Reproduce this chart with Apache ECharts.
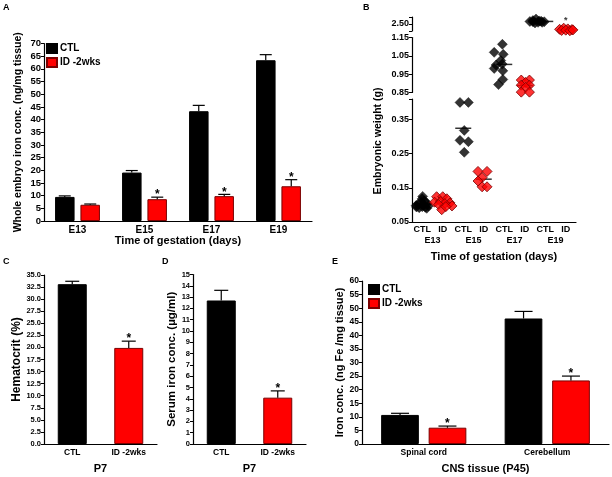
<!DOCTYPE html>
<html><head><meta charset="utf-8">
<script src="https://cdn.jsdelivr.net/npm/echarts@6/dist/echarts.min.js"></script>
<style>html,body{margin:0;padding:0;background:#fff}#c{width:612px;height:477px}</style>
</head><body><div id="c"></div>
<script>
// ---------------- DATA ----------------
// Panel A: whole embryo iron concentration (ng/mg tissue)
const aCategories = ['E13', 'E15', 'E17', 'E19'];
const aCtl    = [9.5, 19.1, 43.3, 63.4];
const aCtlErr = [0.4, 0.8, 2.3, 2.2];
const aId     = [6.4, 8.6, 9.8, 13.7];
const aIdErr  = [0.3, 0.8, 0.7, 2.6];
const aIdSig  = [false, true, true, true];

// Panel B: embryonic weight (g); each point = [horizontal jitter, weight]
const bLabels = ['CTL', 'ID', 'CTL', 'ID', 'CTL', 'ID', 'CTL', 'ID'];
const bGroups = ['E13', 'E15', 'E17', 'E19'];
const bE13Ctl = [[-0.3,0.098],[-0.15,0.092],[0,0.095],[0.15,0.093],[0.3,0.097],[-0.2,0.103],[0.05,0.101],[0.25,0.104],[-0.05,0.108],[0.1,0.112],[0,0.118],[0.02,0.125],[-0.28,0.094],[0.22,0.09]];
const bE13Id  = [[-0.3,0.124],[0.0,0.124],[0.2,0.118],[-0.4,0.108],[-0.1,0.11],[0.35,0.106],[0.1,0.104],[0.45,0.097],[-0.2,0.101],[-0.05,0.086],[0.15,0.095]];
const bE15Ctl = [[-0.16,0.400],[0.25,0.400],[0.05,0.318],[-0.16,0.289],[0.25,0.285],[0.05,0.254]];
const bE15Id  = [[-0.28,0.198],[0.16,0.198],[-0.08,0.180],[-0.28,0.170],[-0.08,0.153],[0.16,0.153]];
const bE17Ctl = [[-0.09,1.113],[-0.49,1.069],[-0.05,1.058],[-0.17,1.024],[-0.4,1.0],[-0.1,1.005],[-0.49,0.981],[-0.07,0.968],[-0.07,0.921],[-0.28,0.893]];
const bE17Id  = [[-0.17,0.918],[0.23,0.918],[0.04,0.905],[-0.17,0.89],[0.23,0.89],[0.04,0.878],[-0.17,0.852],[0.23,0.852]];
const bE19Ctl = [[-0.75,2.68],[-0.6,2.75],[-0.45,2.85],[-0.3,2.72],[-0.15,2.62],[-0.5,2.58],[-0.35,2.62],[-0.2,2.7],[-0.6,2.66],[-0.05,2.66]];
const bE19Id  = [[-0.3,2.12],[-0.1,2.2],[0.1,2.15],[0.3,2.1],[-0.2,2.04],[0.0,2.06],[0.2,2.02],[0.35,2.08]];
const bSig    = [false, false, false, false, false, false, false, true];
const bLowTicks = [0.05, 0.15, 0.25, 0.35];
const bMidTicks = [0.85, 0.95, 1.05, 1.15];
const bTopTicks = [2.5];

// Panel C: hematocrit (%) at P7
const cCategories = ['CTL', 'ID -2wks'];
const cValues = [33.1, 19.9];
const cErr    = [0.6, 1.4];
const cSig    = [false, true];

// Panel D: serum iron (µg/ml) at P7
const dCategories = ['CTL', 'ID -2wks'];
const dValues = [12.7, 4.1];
const dErr    = [0.9, 0.6];
const dSig    = [false, true];

// Panel E: CNS tissue iron (ng Fe/mg tissue) at P45
const eCategories = ['Spinal cord', 'Cerebellum'];
const eCtl    = [10.7, 46.2];
const eCtlErr = [0.6, 2.6];
const eId     = [6.0, 23.4];
const eIdErr  = [0.6, 1.6];
const eIdSig  = [true, true];

// ---------------- STYLE ----------------
const FF = 'Liberation Sans, Arial, sans-serif';
const RED = '#ff0000', RED_B = '#7a0000', BLK = '#000000';

function yAx(gi, min, max, interval, fs, fmt, extra) {
  return Object.assign({
    type: 'value', gridIndex: gi, min: min, max: max, interval: interval,
    axisLine: {show: true, lineStyle: {color: BLK, width: 1.2}},
    axisTick: {show: true, length: 3, lineStyle: {color: BLK, width: 1}},
    axisLabel: {fontSize: fs, fontWeight: 'bold', color: BLK, margin: 3, fontFamily: FF, formatter: fmt},
    splitLine: {show: false}
  }, extra || {});
}
function xCat(gi, data, fs, extra) {
  return Object.assign({
    type: 'category', gridIndex: gi, data: data, boundaryGap: true, position: 'bottom',
    axisLine: {show: true, onZero: false, lineStyle: {color: BLK, width: 1.2}},
    axisTick: {show: false},
    axisLabel: {fontSize: fs, fontWeight: 'bold', color: BLK, margin: 4, fontFamily: FF, interval: 0},
    nameTextStyle: {fontSize: 11, fontWeight: 'bold', color: BLK, fontFamily: FF},
    nameLocation: 'middle'
  }, extra || {});
}
function bars(name, xi, yi, values, color, border, width, gap, perItem) {
  return {
    type: 'bar', name: name, xAxisIndex: xi, yAxisIndex: yi, barWidth: width, barGap: gap,
    data: values.map(function (v, i) {
      return perItem ? {value: v, itemStyle: {color: perItem[i][0], borderColor: perItem[i][1]}} : v;
    }),
    itemStyle: {color: color, borderColor: border, borderWidth: 1},
    silent: true, z: 3
  };
}
function errs(xi, yi, values, errors, sig, offset, capHalf) {
  return {
    type: 'custom', xAxisIndex: xi, yAxisIndex: yi, silent: true, z: 5,
    data: values.map(function (v, i) { return [i, v, v + errors[i], sig[i] ? 1 : 0]; }),
    renderItem: function (params, api) {
      const base = api.coord([api.value(0), api.value(1)]);
      const top = api.coord([api.value(0), api.value(2)]);
      const x = base[0] + offset;
      const ch = [
        {type: 'line', shape: {x1: x, y1: base[1], x2: x, y2: top[1]}, style: {stroke: BLK, lineWidth: 1.2}},
        {type: 'line', shape: {x1: x - capHalf, y1: top[1], x2: x + capHalf, y2: top[1]}, style: {stroke: BLK, lineWidth: 1.2}}
      ];
      if (api.value(3)) {
        ch.push({type: 'text', style: {text: '*', x: x, y: top[1] + 4, align: 'center', verticalAlign: 'bottom',
          font: 'bold 12px ' + FF, fill: BLK}});
      }
      return {type: 'group', children: ch};
    }
  };
}

// ---------------- PANEL B SERIES ----------------
const bAll = [bE13Ctl, bE13Id, bE15Ctl, bE15Id, bE17Ctl, bE17Id, bE19Ctl, bE19Id];
function seg(v) { return v < 0.6 ? 0 : (v < 1.5 ? 1 : 2); }
const bSeries = [];
bAll.forEach(function (pts, idx) {
  const s = seg(pts[0][1]);
  const isId = idx % 2 === 1;
  const mean = pts.reduce(function (a, p) { return a + p[1]; }, 0) / pts.length;
  bSeries.push({
    type: 'scatter', name: 'mean' + idx, xAxisIndex: 3 + s, yAxisIndex: 1 + s, silent: true, clip: false, z: 2,
    symbol: 'rect', symbolSize: [16, 1.5], itemStyle: {color: BLK},
    data: [[idx + 0.5, mean]]
  });
  bSeries.push({
    type: 'scatter', name: 'pts' + idx, xAxisIndex: 3 + s, yAxisIndex: 1 + s, silent: true, clip: false, z: 3,
    symbol: 'diamond', symbolSize: 10,
    itemStyle: isId ? {color: RED, borderColor: RED_B, borderWidth: 1} : {color: BLK, borderColor: BLK, borderWidth: 0.5},
    data: pts.map(function (p) { return [idx + 0.5 + p[0], p[1]]; })
  });
  if (bSig[idx]) {
    const mx = Math.max.apply(null, pts.map(function (p) { return p[1]; }));
    bSeries.push({
      type: 'scatter', name: 'sig' + idx, xAxisIndex: 3 + s, yAxisIndex: 1 + s, silent: true, clip: false, z: 4,
      symbolSize: 0, data: [[idx + 0.5, mx]],
      label: {show: true, position: 'top', distance: 3, formatter: '*', fontSize: 9, fontWeight: 'bold', color: BLK, fontFamily: FF}
    });
  }
});

// ---------------- OPTION ----------------
const chart = echarts.init(document.getElementById('c'), null, {renderer: 'canvas'});
const legendBase = {
  orient: 'vertical', icon: 'rect', itemWidth: 10, itemHeight: 9, itemGap: 3, padding: 0,
  selectedMode: false, data: ['CTL', 'ID -2wks'],
  textStyle: {fontSize: 10, fontWeight: 'bold', color: BLK, fontFamily: FF, padding: [0, 0, 0, -2]}
};
const option = {
  backgroundColor: '#ffffff',
  animation: false,
  textStyle: {fontFamily: FF},
  legend: [
    Object.assign({left: 46, top: 43}, legendBase),
    Object.assign({left: 368, top: 284}, legendBase)
  ],
  grid: [
    {left: 44, top: 43.5, width: 268, height: 177.5},   // A
    {left: 412, top: 99, width: 164, height: 123},      // B low
    {left: 412, top: 37.5, width: 164, height: 55},     // B mid
    {left: 412, top: 17, width: 164, height: 14},       // B top
    {left: 44, top: 275, width: 113, height: 169},      // C
    {left: 193, top: 274.5, width: 113, height: 169.5}, // D
    {left: 362, top: 281, width: 247, height: 163}      // E
  ],
  xAxis: [
    xCat(0, aCategories, 10, {name: 'Time of gestation (days)', nameGap: 13}),
    xCat(1, bLabels, 9, {axisLabel: {fontSize: 9, fontWeight: 'bold', color: BLK, margin: 3, fontFamily: FF, interval: 0}}),
    xCat(1, bGroups, 9, {axisLine: {show: false}, offset: 11, name: 'Time of gestation (days)', nameGap: 18,
      axisLabel: {fontSize: 9, fontWeight: 'bold', color: BLK, margin: 3, fontFamily: FF, interval: 0}}),
    {type: 'value', gridIndex: 1, min: 0, max: 8, show: false, position: 'top'},
    {type: 'value', gridIndex: 2, min: 0, max: 8, show: false},
    {type: 'value', gridIndex: 3, min: 0, max: 8, show: false},
    xCat(4, cCategories, 8.5, {name: 'P7', nameGap: 19}),
    xCat(5, dCategories, 8.5, {name: 'P7', nameGap: 19}),
    xCat(6, eCategories, 8.5, {name: 'CNS tissue (P45)', nameGap: 19})
  ],
  yAxis: [
    yAx(0, 0, 70, 5, 9.5, null, {name: 'Whole embryo iron conc. (ng/mg tissue)', nameLocation: 'middle', nameGap: 20,
      nameTextStyle: {fontSize: 10.5, fontWeight: 'bold', color: BLK, fontFamily: FF}}),
    yAx(1, 0.05, 0.41, null, 9, function (v) { return v.toFixed(2); }, {
      axisLabel: {fontSize: 9, fontWeight: 'bold', color: BLK, margin: 3, fontFamily: FF, customValues: bLowTicks, formatter: function (v) { return v.toFixed(2); }},
      axisTick: {show: true, length: 3, lineStyle: {color: BLK}, customValues: bLowTicks.concat([0.41])}}),
    yAx(2, 0.85, 1.15, null, 9, null, {
      axisLabel: {fontSize: 9, fontWeight: 'bold', color: BLK, margin: 3, fontFamily: FF, customValues: bMidTicks, formatter: function (v) { return v.toFixed(2); }},
      axisTick: {show: true, length: 3, lineStyle: {color: BLK}, customValues: bMidTicks}}),
    yAx(3, 2.0, 3.0, null, 9, null, {
      axisLabel: {fontSize: 9, fontWeight: 'bold', color: BLK, margin: 3, fontFamily: FF, customValues: bTopTicks, formatter: function (v) { return v.toFixed(2); }},
      axisTick: {show: true, length: 3, lineStyle: {color: BLK}, customValues: [2.0, 2.5, 3.0]}}),
    yAx(4, 0, 35, 2.5, 7.5, function (v) { return v.toFixed(1); }, {name: 'Hematocrit (%)', nameLocation: 'middle', nameGap: 20,
      nameTextStyle: {fontSize: 12, fontWeight: 'bold', color: BLK, fontFamily: FF}}),
    yAx(5, 0, 15, 1, 7.5, null, {name: 'Serum iron conc. (\u00b5g/ml)', nameLocation: 'middle', nameGap: 14,
      nameTextStyle: {fontSize: 11.5, fontWeight: 'bold', color: BLK, fontFamily: FF}}),
    yAx(6, 0, 60, 5, 8.5, null, {name: 'Iron conc. (ng Fe /mg tissue)', nameLocation: 'middle', nameGap: 16,
      nameTextStyle: {fontSize: 11, fontWeight: 'bold', color: BLK, fontFamily: FF}})
  ],
  graphic: [
    {type: 'text', left: 3, top: 3, style: {text: 'A', font: 'bold 9px ' + FF, fill: BLK}},
    {type: 'text', left: 363, top: 3, style: {text: 'B', font: 'bold 9px ' + FF, fill: BLK}},
    {type: 'text', left: 3, top: 257, style: {text: 'C', font: 'bold 9px ' + FF, fill: BLK}},
    {type: 'text', left: 162, top: 257, style: {text: 'D', font: 'bold 9px ' + FF, fill: BLK}},
    {type: 'text', left: 332, top: 257, style: {text: 'E', font: 'bold 9px ' + FF, fill: BLK}},
    {type: 'text', x: 378, y: 141, rotation: Math.PI / 2,
      style: {text: 'Embryonic weight (g)', font: 'bold 10.5px ' + FF, fill: BLK, align: 'center', verticalAlign: 'middle'}}
  ],
  series: [
    bars('CTL', 0, 0, aCtl, BLK, BLK, 19.5, '30%'),
    bars('ID -2wks', 0, 0, aId, RED, RED_B, 19.5, '30%'),
    errs(0, 0, aCtl, aCtlErr, [false, false, false, false], -12.75, 6),
    errs(0, 0, aId, aIdErr, aIdSig, 12.75, 6),
    bars('C', 6, 4, cValues, BLK, BLK, 29, '0%', [[BLK, BLK], [RED, RED_B]]),
    errs(6, 4, cValues, cErr, cSig, 0, 7),
    bars('D', 7, 5, dValues, BLK, BLK, 29, '0%', [[BLK, BLK], [RED, RED_B]]),
    errs(7, 5, dValues, dErr, dSig, 0, 7),
    bars('CTL', 8, 6, eCtl, BLK, BLK, 37.7, '26%'),
    bars('ID -2wks', 8, 6, eId, RED, RED_B, 37.7, '26%'),
    errs(8, 6, eCtl, eCtlErr, [false, false], -23.7, 9),
    errs(8, 6, eId, eIdErr, eIdSig, 23.7, 9)
  ].concat(bSeries)
};
chart.setOption(option);
</script>
</body></html>
